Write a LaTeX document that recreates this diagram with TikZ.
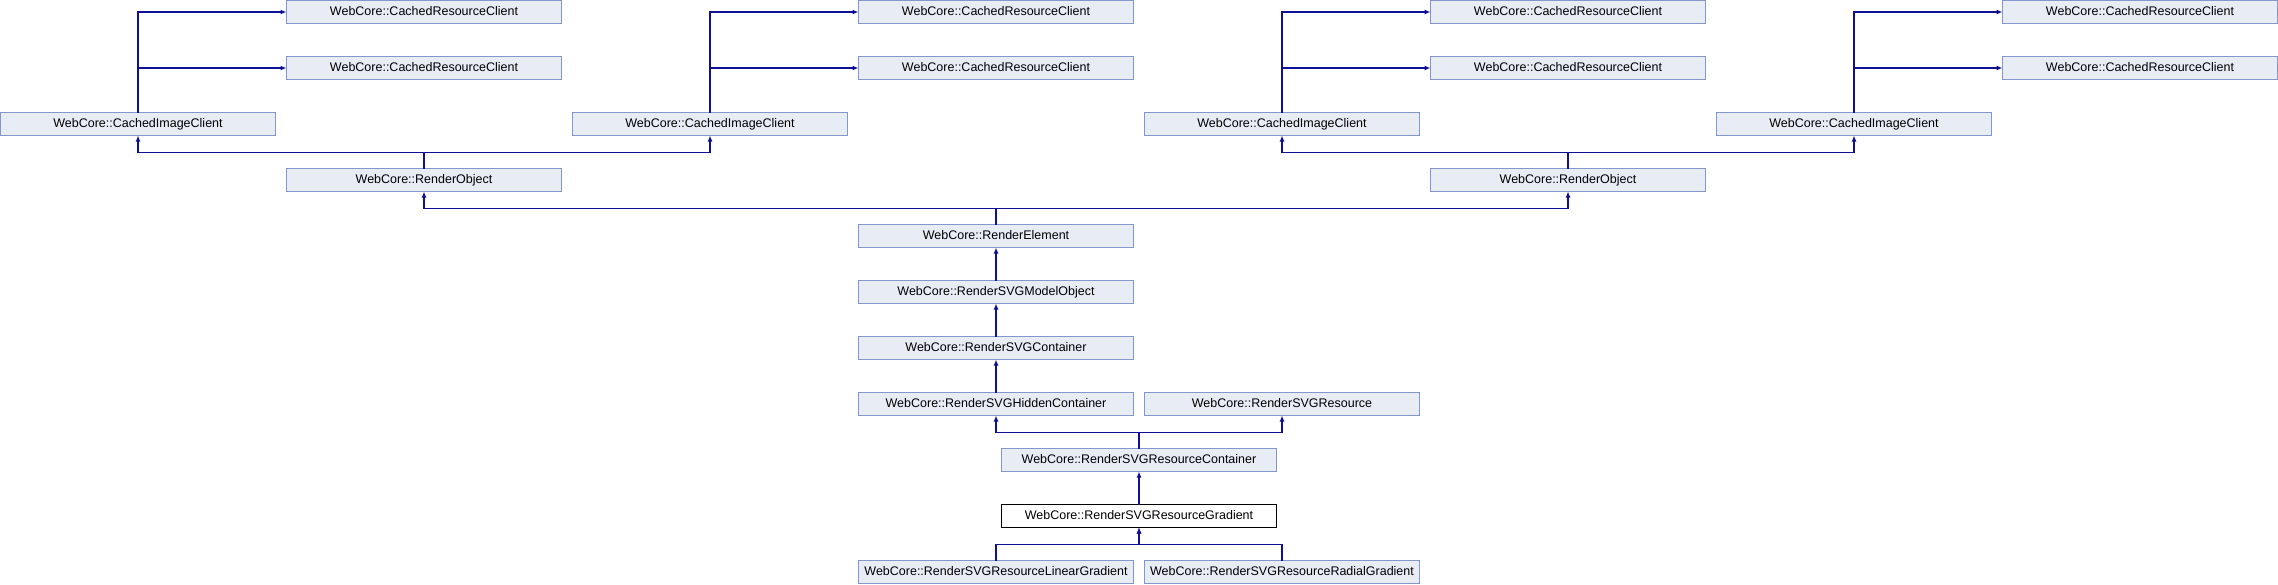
\documentclass[tikz,border=0pt]{standalone}
\usepackage{fontspec}
\setmainfont{Liberation Sans}
\usetikzlibrary{arrows.meta, positioning}
\definecolor{boxfill}{RGB}{232,236,245}
\definecolor{boxline}{RGB}{132,151,204}
\definecolor{edgeblue}{RGB}{16,16,150}

\begin{document}
\begin{tikzpicture}[
    x=1pt, y=1pt,
    box/.style={rectangle, draw=boxline, fill=boxfill, line width=1pt, minimum width=275pt, minimum height=23pt, inner sep=0pt, outer sep=0pt, text height=9.6pt, text depth=2pt, font=\fontsize{12.5}{15}\selectfont},
    curbox/.style={box, draw=black, fill=white},
    arrow/.style={-{Latex[length=6pt, width=5pt]}, line width=1.2pt, draw=edgeblue},
    node distance=33pt and 11pt
]
\useasboundingbox (-0.5,0.5) rectangle (2277.5,-583.5);

% CHAINE CENTRALE
\node[box] (relem) at (995.5,-235.5) {WebCore::RenderElement};
\node[box, below=of relem] (model) {WebCore::RenderSVGModelObject};
\node[box, below=of model] (cont) {WebCore::RenderSVGContainer};
\node[box, below=of cont] (hidden) {WebCore::RenderSVGHiddenContainer};
\node[box, right=of hidden] (res) {WebCore::RenderSVGResource};
\node[box, below=of hidden, xshift=143pt] (rescont) {WebCore::RenderSVGResourceContainer};
\node[curbox, below=of rescont] (grad) {WebCore::RenderSVGResourceGradient};
\node[box, below=of grad, xshift=-143pt] (lin) {WebCore::RenderSVGResourceLinearGradient};
\node[box, right=of lin] (rad) {WebCore::RenderSVGResourceRadialGradient};

% RENDEROBJECT ET CLIENTS
\node[box, above=of relem, xshift=-572pt] (ro1) {WebCore::RenderObject};
\node[box, above=of relem, xshift=572pt] (ro2) {WebCore::RenderObject};

\node[box, above left=of ro1] (cic1) {WebCore::CachedImageClient};
\node[box, above right=of ro1] (cic2) {WebCore::CachedImageClient};
\node[box, above left=of ro2] (cic3) {WebCore::CachedImageClient};
\node[box, above right=of ro2] (cic4) {WebCore::CachedImageClient};

\node[box, above right=of cic1] (crc1b) {WebCore::CachedResourceClient};
\node[box, above=of crc1b] (crc1a) {WebCore::CachedResourceClient};
\node[box, above right=of cic2] (crc2b) {WebCore::CachedResourceClient};
\node[box, above=of crc2b] (crc2a) {WebCore::CachedResourceClient};
\node[box, above right=of cic3] (crc3b) {WebCore::CachedResourceClient};
\node[box, above=of crc3b] (crc3a) {WebCore::CachedResourceClient};
\node[box, above right=of cic4] (crc4b) {WebCore::CachedResourceClient};
\node[box, above=of crc4b] (crc4a) {WebCore::CachedResourceClient};

% FLECHES BAS
\draw[arrow] (lin.north) -- ++(0,16) -| (grad.south);
\draw[arrow] (rad.north) -- ++(0,16) -| (grad.south);
\draw[arrow] (grad) -- (rescont);
\draw[arrow] (rescont.north) -- ++(0,16) -| (hidden.south);
\draw[arrow] (rescont.north) -- ++(0,16) -| (res.south);
\draw[arrow] (hidden) -- (cont);
\draw[arrow] (cont) -- (model);
\draw[arrow] (model) -- (relem);

% FLECHES HAUT
\draw[arrow] (relem.north) -- ++(0,16) -| (ro1.south);
\draw[arrow] (relem.north) -- ++(0,16) -| (ro2.south);
\draw[arrow] (ro1.north) -- ++(0,16) -| (cic1.south);
\draw[arrow] (ro1.north) -- ++(0,16) -| (cic2.south);
\draw[arrow] (ro2.north) -- ++(0,16) -| (cic3.south);
\draw[arrow] (ro2.north) -- ++(0,16) -| (cic4.south);

\draw[arrow] (cic1.north) |- (crc1a.west);
\draw[arrow] (cic1.north) |- (crc1b.west);
\draw[arrow] (cic2.north) |- (crc2a.west);
\draw[arrow] (cic2.north) |- (crc2b.west);
\draw[arrow] (cic3.north) |- (crc3a.west);
\draw[arrow] (cic3.north) |- (crc3b.west);
\draw[arrow] (cic4.north) |- (crc4a.west);
\draw[arrow] (cic4.north) |- (crc4b.west);

\end{tikzpicture}
\end{document}
